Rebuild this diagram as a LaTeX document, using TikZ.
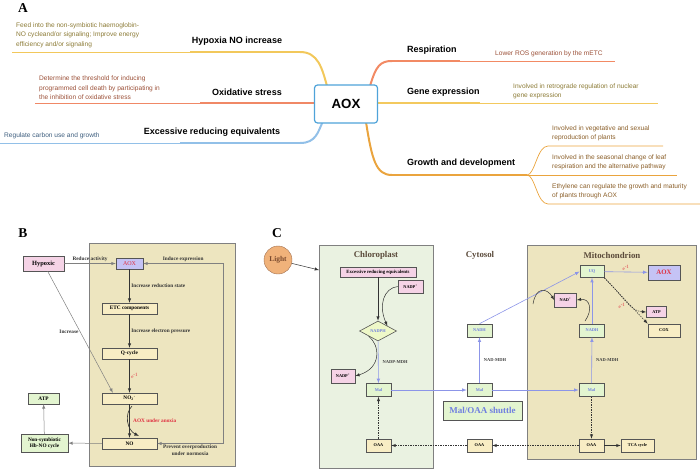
\documentclass[tikz,border=0pt]{standalone}
\usepackage{fontspec}
\setmainfont{Liberation Serif}
\newfontfamily\mapfont{Liberation Sans}
\usepackage{tikz}
\usetikzlibrary{positioning, arrows, shapes.geometric, calc}

\definecolor{hypcol}{HTML}{F2C85B}
\definecolor{oxcol}{HTML}{F08866}
\definecolor{exccol}{HTML}{92C0E8}
\definecolor{respcol}{HTML}{F28A64}
\definecolor{genecol}{HTML}{F3C95E}
\definecolor{growcol}{HTML}{EAA43E}
\definecolor{hyptext}{HTML}{8B7A35}
\definecolor{oxtext}{HTML}{9B5038}
\definecolor{exctext}{HTML}{3E5E7E}
\definecolor{growtext}{HTML}{8A5E28}
\definecolor{aoxblue}{HTML}{4FA3D9}
\definecolor{tanbg}{HTML}{EDE5BF}
\definecolor{chlbg}{HTML}{EAF2E1}
\definecolor{pinkfill}{HTML}{F5D3E6}
\definecolor{lilac}{HTML}{C5C3F5}
\definecolor{tanfill}{HTML}{F8EDC4}
\definecolor{greenfill}{HTML}{E3F5D0}
\definecolor{diafill}{HTML}{EEF8C8}
\definecolor{aoxred}{HTML}{E03040}
\definecolor{boxedge}{HTML}{555555}
\definecolor{arrowgray}{HTML}{808080}
\definecolor{arrowblue}{HTML}{8C95E8}
\definecolor{chemblue}{HTML}{6F7FE0}
\definecolor{lightfill}{HTML}{F0B27A}
\definecolor{lightedge}{HTML}{A07050}
\definecolor{lighttext}{HTML}{7A4A2E}
\definecolor{titlebrown}{HTML}{5A4A3A}

\tikzset{
    topic/.style={font=\mapfont\bfseries\fontsize{9}{11}\selectfont, inner sep=0pt},
    note/.style={font=\mapfont\fontsize{6.6}{9.4}\selectfont, align=left, anchor=west, inner sep=0pt},
    thin branch/.style={line width=0.8pt},
    mid branch/.style={line width=1.4pt},
    thick branch/.style={line width=2pt, line cap=round},
    bnode/.style={rectangle, draw=boxedge, line width=0.5pt, inner sep=0pt, font=\bfseries\fontsize{5.3}{6.2}\selectfont},
    cnode/.style={rectangle, draw=boxedge, line width=0.6pt, inner sep=0pt, font=\bfseries\fontsize{4.3}{5}\selectfont},
    pinkbox/.style={fill=pinkfill},
    tanbox/.style={fill=tanfill},
    greenbox/.style={fill=greenfill},
    lilacbox/.style={fill=lilac, text=aoxred},
    chem/.style={cnode, greenbox, text=chemblue, minimum width=25, minimum height=13},
    oaabox/.style={cnode, tanbox, minimum width=25, minimum height=13},
    blabel/.style={font=\bfseries\fontsize{5.3}{6.2}\selectfont, text=black!80, inner sep=1.5pt},
    clabel/.style={font=\bfseries\fontsize{4.5}{5}\selectfont, text=black!75, inner sep=4pt},
    elabel/.style={font=\fontsize{5}{6}\selectfont, text=aoxred, inner sep=1.5pt},
    ctitle/.style={font=\bfseries\fontsize{8.8}{10}\selectfont, text=titlebrown},
    panel/.style={font=\bfseries\fontsize{13.5}{14}\selectfont},
    grayarr/.style={->, draw=arrowgray, line width=0.5pt},
    blackarr/.style={->, draw=black!80, line width=0.5pt},
    bluearr/.style={->, draw=arrowblue, line width=0.6pt},
    dasharr/.style={->, draw=black!80, line width=0.5pt, dash pattern=on 1.5pt off 1pt},
}

\begin{document}
\begin{tikzpicture}[x=1pt, y=-1pt, >=latex]
    \useasboundingbox (0,0) rectangle (700,469);

    \node (lettera) at (23,8) [panel] {A};
    \node (letterb) at (23,233) [panel] {B};
    \node (letterc) at (277,233) [panel] {C};

    \draw[hypcol, thin branch] (12,52) -- (300,52);
    \draw[hypcol, mid branch] (190,52) -- (300,52);
    \draw[hypcol, thick branch] (300,52) .. controls (318,52) and (322,68) .. (327,86);
    \draw[oxcol, thin branch] (35,103) -- (315,103);
    \draw[oxcol, mid branch] (200,103) -- (315,103);
    \draw[oxcol, thick branch] (275,103) -- (315,103);
    \draw[exccol, thin branch] (0,143) -- (300,143);
    \draw[exccol, mid branch] (180,143) -- (300,143);
    \draw[exccol, thick branch] (300,143) .. controls (316,143) and (318,132) .. (323,121);
    \draw[respcol, thick branch] (370,86) .. controls (376,66) and (380,61) .. (392,61);
    \draw[respcol, mid branch] (392,61) -- (460,61);
    \draw[respcol, thin branch] (392,61) -- (615,61);
    \draw[genecol, thin branch] (377,103) -- (658,103);
    \draw[genecol, mid branch] (377,103) -- (480,103);
    \draw[growcol, thick branch] (366,122) .. controls (372,160) and (376,175) .. (392,175);
    \draw[growcol, line width=1.1pt] (392,175) -- (527,175);
    \draw[growcol, line width=0.7pt] (527,175) .. controls (535,175) and (537,146) .. (548,146) -- (663,146);
    \draw[growcol, line width=0.7pt] (527,175) -- (677,175);
    \draw[growcol, line width=0.7pt] (527,175) .. controls (535,175) and (537,204) .. (548,204) -- (700,204);

    \node (mainaox) at (346,104) [rectangle, rounded corners=3pt, draw=aoxblue, line width=1.2pt, fill=white, minimum width=63, minimum height=38, font=\mapfont\bfseries\fontsize{13.3}{15}\selectfont] {AOX};

    \node (hypoxia) at (237,41) [topic] {Hypoxia NO increase};
    \node (oxidative) at (247,92) [topic] {Oxidative stress};
    \node (excessive) at (212,132) [topic] {Excessive reducing equivalents};
    \node (respiration) at (407,50) [topic, anchor=west] {Respiration};
    \node (geneexp) at (407,92) [topic, anchor=west] {Gene expression};
    \node (growth) at (407,163) [topic, anchor=west] {Growth and development};

    \node (hypnote) at (16,35) [note, text=hyptext] {Feed into the non-symbiotic haemoglobin-\\NO cycleand/or signaling; Improve energy\\efficiency and/or signaling};
    \node (oxnote) at (39,88) [note, text=oxtext] {Determine the threshold for inducing\\programmed cell death by participating in\\the inhibition of oxidative stress};
    \node (excnote) at (4,136) [note, text=exctext] {Regulate carbon use and growth};
    \node (respnote) at (495,54) [note, text=oxtext] {Lower ROS generation by the mETC};
    \node (genenote) at (513,91.5) [note, text=hyptext] {Involved in retrograde regulation of nuclear\\gene expression};
    \node (grownote1) at (552,133.5) [note, text=growtext] {Involved in vegetative and sexual\\reproduction of plants};
    \node (grownote2) at (552,162.5) [note, text=growtext] {Involved in the seasonal change of leaf\\respiration and the alternative pathway};
    \node (grownote3) at (552,191.5) [note, text=growtext] {Ethylene can regulate the growth and maturity\\of plants through AOX};

    \draw[draw=arrowgray, fill=tanbg, line width=0.6pt] (89,243) rectangle (235,466);
    \draw[draw=arrowgray, fill=chlbg, line width=0.6pt] (319,245) rectangle (433,468);
    \draw[draw=arrowgray, fill=tanbg, line width=0.6pt] (527,245) rectangle (696,459);

    \node (hypoxic) at (43.5,263.5) [bnode, pinkbox, minimum width=41, minimum height=15, font=\bfseries\fontsize{6.4}{7}\selectfont] {Hypoxic};
    \node (aoxb) at (129.5,263.5) [bnode, lilacbox, minimum width=27, minimum height=11, font=\fontsize{6}{7}\selectfont] {AOX};
    \node (etc) at (129.5,308.5) [bnode, tanbox, minimum width=55, minimum height=11] {ETC components};
    \node (qcycle) at (129.5,353.5) [bnode, tanbox, minimum width=55, minimum height=11] {Q-cycle};
    \node (nitrite) at (129.5,398.5) [bnode, tanbox, minimum width=55, minimum height=11] {NO\textsubscript{2}\textsuperscript{-}};
    \node (nob) at (129.5,443.5) [bnode, tanbox, minimum width=55, minimum height=11] {NO};
    \node (atpb) at (43.5,398.5) [bnode, greenbox, minimum width=31, minimum height=11] {ATP};
    \node (hbno) at (44.5,443) [bnode, greenbox, minimum width=47, minimum height=18, align=center] {Non-symbiotic\\Hb-NO cycle};
    \coordinate (loopt) at (223,263.5);
    \coordinate (loopb) at (223,443.5);
    \coordinate (anoxs) at (132,406);
    \coordinate (anoxe) at (139,436);

    \draw[grayarr] (hypoxic) -- node[above, blabel] {Reduce activity} (aoxb);
    \draw[grayarr, <->] (aoxb) -- node[above, blabel] {Induce expression} (loopt) -- (loopb) -- node[below, blabel, align=center] {Prevent overproduction\\under normoxia} (nob);
    \draw[blackarr] (aoxb) -- node[right, blabel] {Increase reduction state} (etc);
    \draw[blackarr] (etc) -- node[right, blabel] {Increase electron pressure} (qcycle);
    \draw[blackarr] (qcycle) -- node[right, elabel] {e\textsuperscript{-1}} (nitrite);
    \draw[blackarr] (nitrite) -- (nob);
    \draw[grayarr] (hypoxic) -- node[left, blabel] {Increase} ($(nitrite.north west)!0.2!(nitrite.north east)$);
    \draw[grayarr] (nob) -- (hbno);
    \draw[grayarr] (hbno) -- (atpb);
    \draw[blackarr, line width=0.6pt] (anoxs) .. controls (124,414) and (127,430) .. (anoxe);
    \node (anoxlbl) at (133,421) [blabel, anchor=west, text=aoxred, inner sep=0pt] {AOX under anoxia};

    \node (light) at (278,260) [circle, draw=lightedge, fill=lightfill, minimum size=28, inner sep=0pt, font=\bfseries\fontsize{7.4}{8}\selectfont, text=lighttext] {Light};
    \coordinate (chlin) at (319,270);
    \draw[blackarr] (light) -- (chlin);

    \node (chltitle) at (376,255) [ctitle] {Chloroplast};
    \node (cyttitle) at (480,255) [ctitle] {Cytosol};
    \node (mittitle) at (612,255) [ctitle] {Mitochondrion};

    \node (excess) at (378,272) [cnode, pinkbox, minimum width=76, minimum height=10, font=\bfseries\fontsize{4.8}{5.5}\selectfont] {Excessive reducing equivalents};
    \node (nadpa) at (410.5,286.5) [cnode, pinkbox, minimum width=25, minimum height=13] {NADP\textsuperscript{+}};
    \node (nadph) at (378,331) [diamond, aspect=1.85, draw=boxedge, line width=0.6pt, fill=diafill, minimum width=37, minimum height=20, inner sep=0pt, font=\bfseries\fontsize{4.3}{5}\selectfont, text=chemblue] {NADPH};
    \node (nadpb) at (343,376) [cnode, pinkbox, minimum width=24, minimum height=14] {NADP\textsuperscript{+}};
    \node (malc) at (378.5,390) [chem] {Mal};
    \node (oaac) at (378.5,445.5) [oaabox] {OAA};
    \node (malt) at (479.5,390) [chem] {Mal};
    \node (nadht) at (479.5,330.5) [chem] {NADH};
    \node (oaat) at (479.5,445.5) [oaabox] {OAA};
    \node (shuttle) at (482.5,410.5) [cnode, greenbox, minimum width=79, minimum height=19, text=chemblue, font=\bfseries\fontsize{9}{10}\selectfont] {Mal/OAA shuttle};
    \node (malm) at (591.5,390) [chem] {Mal};
    \node (nadhm) at (592,330.5) [chem] {NADH};
    \node (oaam) at (591.5,445.5) [oaabox] {OAA};
    \node (tca) at (637.5,445.5) [cnode, tanbox, minimum width=33, minimum height=13] {TCA cycle};
    \node (uq) at (592,271.5) [chem, minimum width=24, minimum height=12] {UQ};
    \node (aoxc) at (664,272.5) [cnode, lilacbox, minimum width=32, minimum height=15, font=\bfseries\fontsize{6.8}{8}\selectfont] {AOX};
    \node (nadplus) at (565.5,300) [cnode, pinkbox, minimum width=22, minimum height=14] {NAD\textsuperscript{+}};
    \node (atpc) at (656.5,312) [cnode, pinkbox, minimum width=20, minimum height=11] {ATP};
    \node (coxc) at (664,330.5) [cnode, tanbox, minimum width=32, minimum height=13] {COX};
    \coordinate (nadfrom) at (585,321);
    \coordinate (nadin) at (533,304);

    \draw[blackarr] (excess) -- (nadph);
    \draw[blackarr] (nadpa.west) .. controls (384,288) and (378,305) .. (nadph.north east);
    \draw[blackarr] (nadph.south west) .. controls (380,345) and (382,368) .. (nadpb.east);
    \draw[bluearr] (nadph) -- node[right, clabel] {NADP-MDH} (malc);
    \draw[bluearr] (malc) -- (malt);
    \draw[dasharr] (oaac) -- (malc);
    \draw[bluearr] (malt) -- node[right, clabel] {NAD-MDH} (nadht);
    \draw[bluearr] (nadht.north) -- (uq.west);
    \draw[bluearr] (malt) -- (malm);
    \draw[bluearr] (malm) -- node[right, clabel] {NAD-MDH} (nadhm);
    \draw[bluearr] (nadhm) -- (uq);
    \draw[bluearr] (uq) -- node[above, elabel] {e\textsuperscript{-1}} (aoxc);
    \draw[dasharr] (uq.south east) .. controls (625,298) and (630,311) .. (atpc.west);
    \draw[dasharr] (uq.south east) -- (coxc.north west);
    \node (eatp) at (622,306) [elabel] {e\textsuperscript{-1}};
    \draw[blackarr] (nadfrom) .. controls (593,310) and (590,298) .. (nadplus.east);
    \draw[blackarr] (nadin) .. controls (536,286) and (547,288) .. (nadplus.west);
    \draw[dasharr] (malm) -- (oaam);
    \draw[blackarr] (oaam) -- (tca);
    \draw[dasharr] (oaam) -- (oaat);
    \draw[dasharr] (oaat) -- (oaac);
\end{tikzpicture}
\end{document}
